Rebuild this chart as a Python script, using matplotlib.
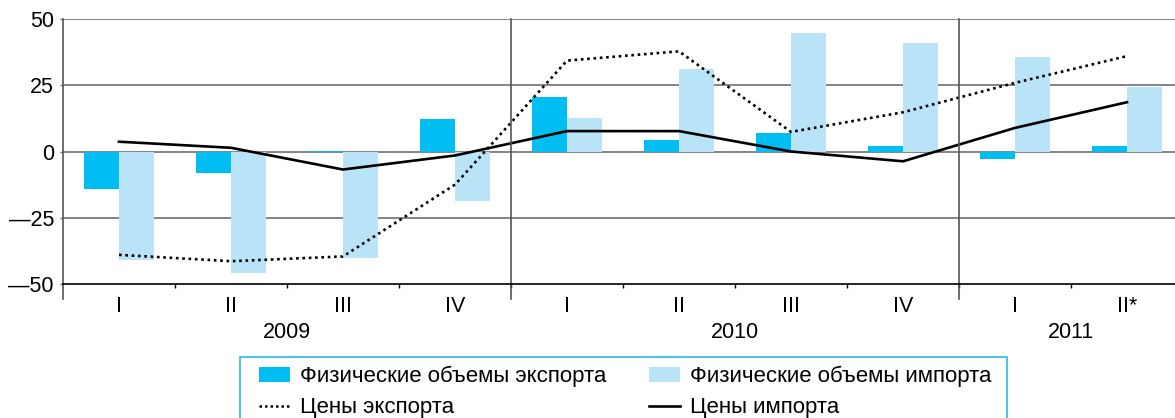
import matplotlib
matplotlib.use('Agg')
import matplotlib.pyplot as plt
import matplotlib.transforms as mtransforms
from matplotlib.patches import Patch, Rectangle
from matplotlib.lines import Line2D
import numpy as np

plt.rcParams['font.family'] = ['Liberation Sans', 'DejaVu Sans']

# данные
quarters = ['I', 'II', 'III', 'IV', 'I', 'II', 'III', 'IV', 'I', 'II*']
years = ['2009', '2010', '2011']
year_centers = [1.5, 5.5, 8.5]
year_bounds = [3.5, 7.5]

export_vol = [-14.3, -8.2, 0.3, 12.1, 20.4, 4.2, 6.8, 1.9, -3.0, 1.9]
import_vol = [-41.0, -46.0, -40.3, -18.5, 12.8, 31.3, 44.9, 40.8, 35.5, 24.5]
export_prices = [-39.0, -41.4, -39.6, -12.5, 34.3, 37.8, 7.4, 14.8, 25.9, 36.0]
import_prices = [3.7, 1.4, -6.8, -1.5, 7.7, 7.7, 0.0, -3.7, 8.9, 18.6]

c_exp = '#00bdf2'
c_imp = '#b9e4f7'
grid_c = '#707070'
fs = 15.5

fig = plt.figure(figsize=(11.75, 4.18), dpi=100)
ax = fig.add_axes([63 / 1175, 134 / 418, 1120 / 1175, 265 / 418])

x = np.arange(len(quarters))
w = 0.31
ax.bar(x - w / 2, export_vol, width=w, color=c_exp, zorder=2)
ax.bar(x + w / 2, import_vol, width=w, color=c_imp, zorder=2)
ax.plot(x, export_prices, color='black', lw=1.9, linestyle=(0, (1, 1.4)), zorder=3)
ax.plot(x, import_prices, color='black', lw=1.9, zorder=3)

ax.set_xlim(-0.5, 9.5)
ax.set_ylim(-50, 50)
ax.set_yticks([-50, -25, 0, 25, 50])
ax.set_yticklabels(['\u201450', '\u201425', '0', '25', '50'], fontsize=fs)
for yv in [-25, 0, 25, 50]:
    ax.axhline(yv, color=grid_c, lw=1.2, zorder=1)

for s in ['top', 'right', 'left']:
    ax.spines[s].set_visible(False)
ax.spines['bottom'].set_color('black')
ax.spines['bottom'].set_linewidth(1.2)
ax.spines['bottom'].set_zorder(4)

ax.set_xticks(x)
ax.set_xticklabels(quarters, fontsize=fs)
ax.tick_params(axis='x', which='major', length=0, pad=9)
ax.set_xticks(np.arange(0.5, 9.5, 1), minor=True)
ax.tick_params(axis='x', which='minor', length=3, width=1, color='black', direction='out')
ax.tick_params(axis='y', length=2.5, width=1, color=grid_c, pad=4)

trans = mtransforms.blended_transform_factory(ax.transData, ax.transAxes)
low = -15 / 265
ax.plot([-0.5, -0.5], [low, 1], color='#555555', lw=1.2, transform=trans, clip_on=False)
for xb in year_bounds:
    ax.plot([xb, xb], [low, 1], color='#555555', lw=1.2, transform=trans, clip_on=False, zorder=4)
for xc, yr in zip(year_centers, years):
    ax.text(xc, -49 / 265, yr, transform=trans, ha='center', va='center', fontsize=fs)

# рамка легенды
fig.patches.append(Rectangle((240 / 1175, -0.05), 767 / 1175, 0.05 + 61 / 418,
                             transform=fig.transFigure, facecolor='none',
                             edgecolor='#2bb8ec', lw=1.2))

handles = [
    Patch(facecolor=c_exp, edgecolor='none', label='Физические объемы экспорта'),
    Line2D([], [], color='black', lw=1.8, linestyle=(0, (1, 1.2)), label='Цены экспорта'),
    Patch(facecolor=c_imp, edgecolor='none', label='Физические объемы импорта'),
    Line2D([], [], color='black', lw=1.9, label='Цены импорта'),
]
leg = fig.legend(handles=handles, ncol=2, loc='upper left',
                 bbox_to_anchor=(259 / 1175, 1 - 366 / 418),
                 fontsize=16, frameon=False,
                 handlelength=1.4, handleheight=0.7, handletextpad=0.45,
                 columnspacing=1.93, labelspacing=0.45, borderpad=0,
                 borderaxespad=0)

fig.savefig('out.png', dpi=100)
